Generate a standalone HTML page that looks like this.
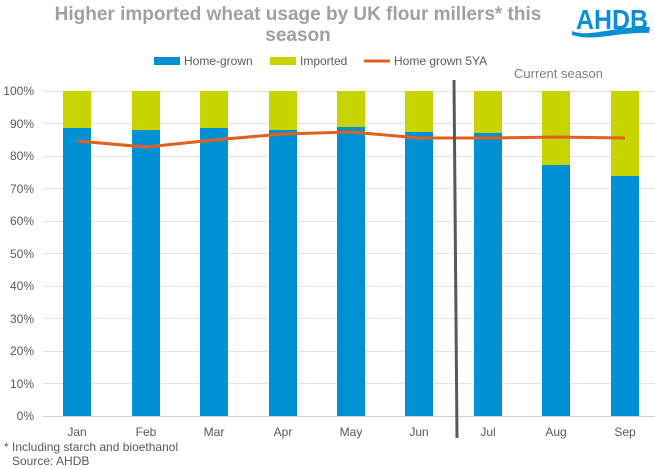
<!DOCTYPE html>
<html><head><meta charset="utf-8"><style>body{margin:0;background:#fff}svg{display:block}text{font-family:"Liberation Sans",Arial,sans-serif}</style></head><body>
<svg width="655" height="469" xmlns="http://www.w3.org/2000/svg">
<text x="298" y="20" text-anchor="middle" font-size="19" font-weight="bold" fill="#a0a0a0">Higher imported wheat usage by UK flour millers* this</text>
<text x="298" y="41" text-anchor="middle" font-size="19" font-weight="bold" fill="#a0a0a0">season</text>
<text x="576" y="29" font-size="28" font-weight="bold" fill="#0a8fd6" textLength="72" lengthAdjust="spacingAndGlyphs">AHDB</text>
<path d="M572,31 C590,38 612,26 650,27 L649,33 C615,32 595,42 572,35 Z" fill="#0a8fd6"/>
<rect x="154" y="57" width="26" height="8" fill="#0090d4"/><text x="184" y="65" font-size="12" fill="#595959">Home-grown</text>
<rect x="270" y="57" width="26" height="8" fill="#c8d400"/><text x="300" y="65" font-size="12" fill="#595959">Imported</text>
<line x1="364" y1="61" x2="390" y2="61" stroke="#e0601c" stroke-width="3"/><text x="394" y="65" font-size="12" fill="#595959">Home grown 5YA</text>
<text x="514" y="78" font-size="13" fill="#808080">Current season</text>
<g stroke="#e3e3e3" stroke-width="1">
<line x1="43" x2="655" y1="91.5" y2="91.5"/><line x1="43" x2="655" y1="123.5" y2="123.5"/><line x1="43" x2="655" y1="156.5" y2="156.5"/><line x1="43" x2="655" y1="188.5" y2="188.5"/><line x1="43" x2="655" y1="221.5" y2="221.5"/><line x1="43" x2="655" y1="253.5" y2="253.5"/><line x1="43" x2="655" y1="286.5" y2="286.5"/><line x1="43" x2="655" y1="318.5" y2="318.5"/><line x1="43" x2="655" y1="351.5" y2="351.5"/><line x1="43" x2="655" y1="383.5" y2="383.5"/></g>
<line x1="43" x2="655" y1="416.5" y2="416.5" stroke="#d0d0d0"/>
<g font-size="12" fill="#595959" text-anchor="end">
<text x="34" y="95">100%</text><text x="34" y="128">90%</text><text x="34" y="160">80%</text><text x="34" y="193">70%</text><text x="34" y="225">60%</text><text x="34" y="258">50%</text><text x="34" y="290">40%</text><text x="34" y="323">30%</text><text x="34" y="355">20%</text><text x="34" y="388">10%</text><text x="34" y="420">0%</text></g>
<g fill="#c8d400">
<rect x="63" y="91" width="28" height="325"/><rect x="132" y="91" width="28" height="325"/><rect x="200" y="91" width="28" height="325"/><rect x="269" y="91" width="28" height="325"/><rect x="337" y="91" width="28" height="325"/><rect x="405" y="91" width="28" height="325"/><rect x="474" y="91" width="28" height="325"/><rect x="542" y="91" width="28" height="325"/><rect x="611" y="91" width="28" height="325"/></g>
<g fill="#0090d4">
<rect x="63" y="128" width="28" height="288"/><rect x="132" y="130" width="28" height="286"/><rect x="200" y="128" width="28" height="288"/><rect x="269" y="130" width="28" height="286"/><rect x="337" y="127" width="28" height="289"/><rect x="405" y="132" width="28" height="284"/><rect x="474" y="133" width="28" height="283"/><rect x="542" y="165" width="28" height="251"/><rect x="611" y="176" width="28" height="240"/></g>
<polyline fill="none" stroke="#e0601c" stroke-width="3" points="77,141 146,147 214,140 283,134 351,132 419,138 488,138 556,137 625,138"/>
<line x1="454" y1="80" x2="457" y2="438" stroke="#595959" stroke-width="3"/>
<g font-size="12" fill="#595959" text-anchor="middle">
<text x="77" y="436">Jan</text><text x="146" y="436">Feb</text><text x="214" y="436">Mar</text><text x="283" y="436">Apr</text><text x="351" y="436">May</text><text x="419" y="436">Jun</text><text x="488" y="436">Jul</text><text x="556" y="436">Aug</text><text x="625" y="436">Sep</text></g>
<text x="4" y="451" font-size="12" fill="#595959">* Including starch and bioethanol</text>
<text x="12" y="465" font-size="12" fill="#595959">Source: AHDB</text>
</svg></body></html>
